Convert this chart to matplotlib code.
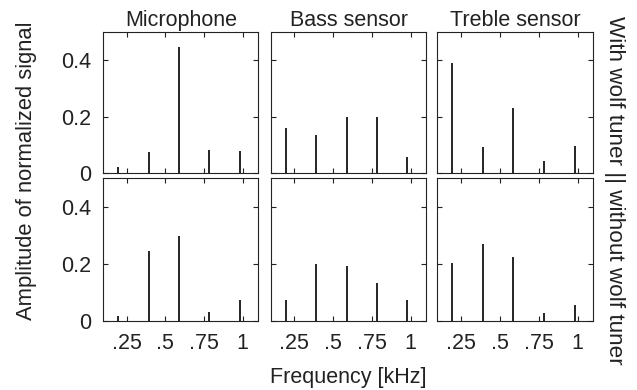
import matplotlib
matplotlib.use("Agg")
import matplotlib.pyplot as plt
import numpy as np

plt.rcParams['font.family'] = ['Liberation Sans', 'DejaVu Sans']

columns = ["Microphone", "Bass sensor", "Treble sensor"]
harmonics = [0.196, 0.392, 0.588, 0.784, 0.980]

# amplitudes for harmonics 1..5
with_tuner = {
    "Microphone":    [0.023, 0.076, 0.447, 0.082, 0.080],
    "Bass sensor":   [0.159, 0.135, 0.200, 0.198, 0.059],
    "Treble sensor": [0.389, 0.094, 0.230, 0.043, 0.096],
}
without_tuner = {
    "Microphone":    [0.015, 0.246, 0.299, 0.032, 0.073],
    "Bass sensor":   [0.073, 0.200, 0.193, 0.132, 0.071],
    "Treble sensor": [0.203, 0.271, 0.224, 0.026, 0.055],
}
rows = [with_tuner, without_tuner]

xticks = [0.25, 0.5, 0.75, 1.0]
xticklabels = [".25", ".5", ".75", "1"]
yticks = [0, 0.2, 0.4]
yticklabels = ["0", "0.2", "0.4"]

W, H = 637, 390
fig = plt.figure(figsize=(W / 100, H / 100), dpi=100)

col_x = [(103.3, 258.3), (271.0, 426.0), (437.3, 593.3)]
row_y = [(31.7, 173.3), (178.3, 320.7)]

fs = 15.5
tc = "#222222"
for r, data in enumerate(rows):
    for c, name in enumerate(columns):
        x0, x1 = col_x[c]
        y0, y1 = row_y[r]
        ax = fig.add_axes([x0 / W, 1 - y1 / H, (x1 - x0) / W, (y1 - y0) / H])
        ax.vlines(harmonics, 0, data[name], colors="black", lw=1.2)
        ax.set_xlim(0.1, 1.1)
        ax.set_ylim(0, 0.5)
        ax.set_xticks(xticks)
        ax.set_yticks(yticks)
        ax.tick_params(direction="in", length=3.8, width=0.8, top=True, right=True,
                       labelsize=fs, colors=tc)
        ax.tick_params(axis="x", pad=9)
        ax.tick_params(axis="y", pad=9)
        if r == 1:
            ax.set_xticklabels(xticklabels)
        else:
            ax.set_xticklabels([])
        if c == 0:
            ax.set_yticklabels(yticklabels)
        else:
            ax.set_yticklabels([])
        for s in ax.spines.values():
            s.set_color(tc)
            s.set_linewidth(0.8)
        if r == 0:
            ax.set_title(name, fontsize=fs, pad=4, color=tc)

fig.text(27 / W, 1 - 171 / H, "Amplitude of normalized signal", rotation=90,
         ha="center", va="center", fontsize=15.8, color=tc)
fig.text(348 / W, 1 - 378 / H, "Frequency [kHz]", ha="center", va="center",
         fontsize=fs, color=tc)
fig.text(614 / W, 1 - 190 / H, "With wolf tuner || without wolf tuner", rotation=270,
         ha="center", va="center", fontsize=16.2, color=tc)

fig.savefig("out.png", dpi=100)
